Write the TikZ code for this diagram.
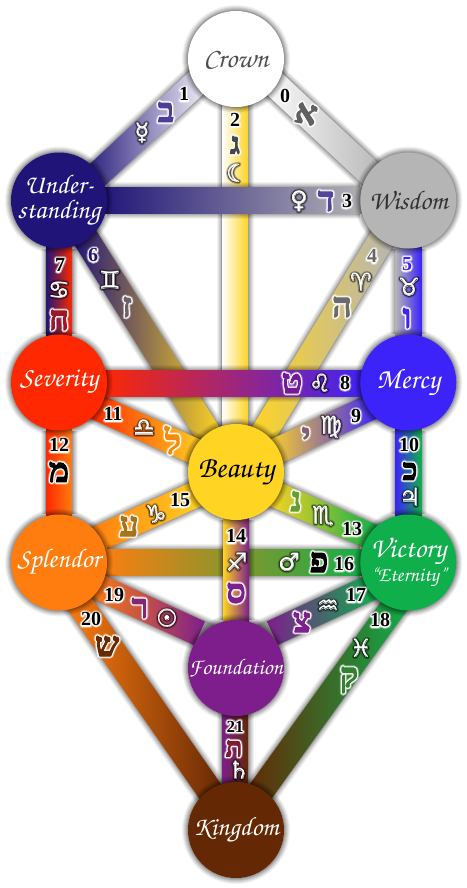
\documentclass[tikz,border=0pt]{standalone}
\usepackage[T1,TU]{fontenc}
\usepackage{fontspec}
\usetikzlibrary{calc}
\newfontfamily\hebf[Script=Hebrew]{Liberation Serif}
\newfontfamily\symf{DejaVu Sans}
\newfontfamily\numf{Liberation Serif}
\pgfdeclarelayer{bars}\pgfdeclarelayer{halos}
\pgfsetlayers{bars,halos,main}
\newcommand\calf[1]{\fontsize{#1}{#1}\usefont{T1}{pzc}{mb}{it}}
\definecolor{cCrown}{RGB}{255,255,255}
\definecolor{cWis}{RGB}{181,181,181}
\definecolor{cUnd}{RGB}{32,20,120}
\definecolor{cMer}{RGB}{60,35,250}
\definecolor{cSev}{RGB}{255,40,0}
\definecolor{cBea}{RGB}{255,212,35}
\definecolor{cSpl}{RGB}{255,125,15}
\definecolor{cVic}{RGB}{15,175,75}
\definecolor{cFou}{RGB}{125,30,140}
\definecolor{cKin}{RGB}{100,40,5}
\makeatletter
\newcommand\strokelayer[4]{\rlap{\special{pdf:code q}\pgfsys@stroke@opacity{#3}\special{pdf:code #1 RG 1 Tr #2 w 1 j 1 J}#4\special{pdf:code 0 Tr Q}}}
\makeatother
\newcommand\wglow[1]{\strokelayer{1 1 1}{4.4}{.4}{#1}\strokelayer{1 1 1}{2.4}{1}{#1}#1}
\newcommand\dglow[1]{\strokelayer{0 0 0}{4.6}{.25}{#1}\strokelayer{0 0 0}{2.6}{.5}{#1}\strokelayer{1 1 1}{.4}{1}{#1}#1}
% Hebrew letter: white halo, then the letter filled and thickened in one colour
\newcommand\hebl[2]{\strokelayer{1 1 1}{5.2}{.4}{#2}\strokelayer{1 1 1}{3.4}{1}{#2}\special{pdf:code q #1 RG #1 rg 2 Tr 1 w 1 j 1 J}#2\special{pdf:code 0 Tr Q}}
\tikzset{
 sephira/.style={circle,minimum size=96pt,inner sep=0pt,fill=#1},
 lab/.style 2 args={align=center,inner sep=0pt,text=#1,font=\calf{#2}},
 barbox/.style={rectangle,minimum height=26pt,inner sep=0pt},
 num/.style={inner sep=0pt,font=\numf\bfseries\fontsize{20}{20}\selectfont},
 heb/.style={inner sep=0pt,font=\hebf\bfseries\fontsize{34}{34}\selectfont},
 hebs/.style={inner sep=0pt,font=\hebf\bfseries\fontsize{#1}{#1}\selectfont},
 sym/.style={inner sep=0pt,text=white,font=\symf\fontsize{24}{24}\selectfont},
}
\newcommand\pathbar[5]{%
 \foreach \w/\o in {37/.05,35/.06,33/.07,31/.08,29/.1,27.5/.1}{\draw[line width=\w pt,black,opacity=\o] (#2)--(#3);}
 \path let \p1=($(#3)-(#2)$),\n1={veclen(\x1,\y1)},\n2={atan2(\y1,\x1)} in
   node[barbox,minimum width={\n1-80},rotate=\n2,left color=#4,right color=#5] (#1) at ($(#2)!.5!(#3)$) {};
}
\newcommand\sephalo[1]{\foreach \r/\o in {54/.05,53/.06,52/.07,51/.08,50/.1,49/.12}{\fill[black,opacity=\o] (#1) circle[radius=\r pt];}}
\newcommand\hnum[5]{\node[num,text=#4] (#1) at (#2) {#5{#3}};}
\begin{document}
\begin{tikzpicture}[x=1pt,y=-1pt]
\begin{pgfonlayer}{bars}
\fill[white] (0,0) rectangle (466,888);
\end{pgfonlayer}
\useasboundingbox (0,0) rectangle (466,888);
% sephiroth
\node[sephira=cCrown,label={[lab={black!70}{27.5}]center:Crown}] (crown) at (236,59) {};
\node[sephira=cUnd,label={[lab={white}{27}]center:Under-\\[-2pt]standing}] (und) at (59,200.5) {};
\node[sephira=cWis,label={[lab={black!80}{27}]center:Wisdom}] (wis) at (408.3,200.5) {};
\node[sephira=cSev,label={[lab={white}{27.5}]center:Severity}] (sev) at (59,382.5) {};
\node[sephira=cMer,label={[lab={white}{28.5}]center:Mercy}] (mer) at (408.3,382.5) {};
\node[sephira=cBea,label={[lab={black}{30}]center:Beauty}] (bea) at (236,472) {};
\node[sephira=cSpl,label={[lab={white}{27}]center:Splendor}] (spl) at (59,562.5) {};
\node[sephira=cVic,label={[lab={white}{28.5}]center:Victory\\[-4pt]{\calf{20.5}``Eternity''}}] (vic) at (408.3,562.5) {};
\node[sephira=cFou,label={[lab={white}{22.5}]center:Foundation}] (fou) at (236,668) {};
\node[sephira=cKin,label={[lab={white}{26.5}]center:Kingdom}] (kin) at (236,830) {};
\begin{pgfonlayer}{halos}
\foreach \n in {crown,und,wis,sev,mer,bea,spl,vic,fou,kin}{\sephalo{\n}}
\end{pgfonlayer}
% path anchors
\coordinate (a0) at ($(crown)+(0,-11)$);  \coordinate (b0) at ($(wis)+(0,8.5)$);
\coordinate (a1) at ($(crown)+(0,-13)$);  \coordinate (b1) at ($(und)+(0,10)$);
\coordinate (a2) at ($(crown)+(-1,0)$);   \coordinate (b2) at ($(bea)+(-1,0)$);
\coordinate (a4) at ($(wis)+(-3,0)$);     \coordinate (b4) at ($(bea)+(4,0)$);
\coordinate (a6) at ($(und)+(3,0)$);      \coordinate (b6) at ($(bea)+(-4,0)$);
\coordinate (a8) at ($(sev)+(0,1)$);      \coordinate (b8) at ($(mer)+(0,1)$);
\coordinate (a9) at ($(mer)+(0,7)$);      \coordinate (b9) at ($(bea)+(0,-2)$);
\coordinate (a11) at ($(sev)+(0,7.5)$);   \coordinate (b11) at ($(bea)+(0,-2)$);
\coordinate (a13) at ($(bea)+(0,5)$);     \coordinate (b13) at ($(vic)+(0,-9.5)$);
\coordinate (a15) at ($(bea)+(0,4)$);     \coordinate (b15) at ($(spl)+(0,-6)$);
\coordinate (a17) at ($(vic)+(0,7.5)$);   \coordinate (b17) at ($(fou)+(0,-18)$);
\coordinate (a18) at ($(vic)+(17,0)$);    \coordinate (b18) at ($(kin)+(-3,0)$);
\coordinate (a19) at ($(spl)+(0,6.5)$);   \coordinate (b19) at ($(fou)+(0,-18)$);
\coordinate (a20) at ($(spl)+(-8,0)$);    \coordinate (b20) at ($(kin)+(1,0)$);
\coordinate (a21) at ($(fou)+(-1,0)$);    \coordinate (b21) at ($(kin)+(-1,0)$);
\begin{pgfonlayer}{bars}
\pathbar{p2}{a2}{b2}{cCrown}{cBea}
\pathbar{p6}{a6}{b6}{cUnd}{cBea}
\pathbar{p4}{b4}{a4}{cBea}{cWis}
\pathbar{p0}{a0}{b0}{cCrown}{cWis}
\pathbar{p1}{b1}{a1}{cUnd}{cCrown}
\pathbar{p3}{und}{wis}{cUnd}{cWis}
\pathbar{p5}{wis}{mer}{cWis}{cMer}
\pathbar{p7}{und}{sev}{cUnd}{cSev}
\pathbar{p9}{b9}{a9}{cBea}{cMer}
\pathbar{p11}{a11}{b11}{cSev}{cBea}
\pathbar{p8}{a8}{b8}{cSev}{cMer}
\pathbar{p10}{mer}{vic}{cMer}{cVic}
\pathbar{p12}{sev}{spl}{cSev}{cSpl}
\pathbar{p13}{a13}{b13}{cBea}{cVic}
\pathbar{p15}{b15}{a15}{cSpl}{cBea}
\pathbar{p16}{spl}{vic}{cSpl}{cVic}
\pathbar{p14}{bea}{fou}{cBea}{cFou}
\pathbar{p17}{b17}{a17}{cFou}{cVic}
\pathbar{p19}{a19}{b19}{cSpl}{cFou}
\pathbar{p18}{b18}{a18}{cKin}{cVic}
\pathbar{p20}{a20}{b20}{cSpl}{cKin}
\pathbar{p21}{a21}{b21}{cFou}{cKin}
\end{pgfonlayer}
% numbers
\hnum{n0}{285,96}{0}{black}{\wglow}
\hnum{n1}{184,94}{1}{black}{\wglow}
\hnum{n2}{235,119.5}{2}{black}{\wglow}
\hnum{n3}{347,201}{3}{black}{\wglow}
\hnum{n4}{372,256}{4}{black!60}{\wglow}
\hnum{n5}{407,264}{5}{cMer}{\wglow}
\hnum{n6}{93,255}{6}{cUnd}{\wglow}
\hnum{n7}{60,265}{7}{black}{\wglow}
\hnum{n8}{345,383}{8}{black}{\wglow}
\hnum{n9}{356,416}{9}{black}{\wglow}
\hnum{n10}{409,444.5}{10}{black}{\wglow}
\hnum{n11}{113,414}{11}{black}{\wglow}
\hnum{n12}{59,445}{12}{black}{\wglow}
\hnum{n13}{352,529}{13}{black}{\wglow}
\hnum{n14}{236,536}{14}{black}{\wglow}
\hnum{n15}{180,500}{15}{black}{\wglow}
\hnum{n16}{344,564}{16}{black}{\wglow}
\hnum{n17}{356,595}{17}{black}{\wglow}
\hnum{n18}{380,620}{18}{black}{\wglow}
\hnum{n19}{114,595}{19}{black}{\wglow}
\hnum{n20}{91,619}{20}{black}{\wglow}
\node[num,text=black,font=\numf\bfseries\fontsize{17}{17}\selectfont] (n21) at (235,726.5) {\wglow{21}};
% hebrew letters
\node[heb,rotate=-12] (h0) at (306,114) {\hebl{.38 .38 .38}{א}};
\node[heb] (h1) at (166,112) {\hebl{.3 .24 .6}{ב}};
\node[hebs=30] (h2) at (235,145) {\hebl{.28 .28 .28}{ג}};
\node[heb] (h3) at (326,201) {\hebl{.33 .27 .6}{ד}};
\node[heb] (h4) at (342,307) {\hebl{.42 .42 .42}{ה}};
\node[heb] (h5) at (407,318) {\hebl{.24 .14 .95}{ו}};
\node[heb] (h6) at (127,307) {\hebl{.42 .38 .4}{ז}};
\node[heb] (h7) at (59,320) {\hebl{.6 .1 .15}{ח}};
\node[heb] (h8) at (292,383) {\hebl{.45 .1 .6}{ט}};
\node[heb] (h9) at (306,437) {\hebl{.5 .38 .45}{י}};
\node[hebs=30] (h10) at (410,471) {\hebl{0 0 0}{כ}};
\node[heb] (h11) at (173,440) {\hebl{.95 .55 .05}{ל}};
\node[heb] (h12) at (59,472) {\hebl{0 0 0}{מ}};
\node[heb] (h13) at (296,501) {\hebl{.4 .62 .2}{נ}};
\node[heb] (h14) at (236,593) {\hebl{.49 .12 .55}{ס}};
\node[heb] (h15) at (129,526) {\hebl{.65 .45 .1}{ע}};
\node[heb] (h16) at (319,562) {\hebl{0 0 0}{פ}};
\node[heb] (h17) at (302,622) {\hebl{.49 .12 .55}{צ}};
\node[heb] (h18) at (349,680) {\hebl{.2 .5 .2}{ק}};
\node[heb] (h19) at (140,608) {\hebl{.5 .15 .45}{ר}};
\node[heb] (h20) at (107,646) {\hebl{.4 .16 .02}{ש}};
\node[hebs=27] (h21) at (234,748.5) {\hebl{.5 .1 .2}{ת}};
% astrological symbols
\node[sym] (s1) at (142,133) {\dglow{☿}};
\node[sym] (s2) at (237,173) {\dglow{☾}};
\node[sym] (s3) at (299,201) {\dglow{♀}};
\node[sym] (s4) at (361,282) {\dglow{♈}};
\node[sym] (s5) at (409,287) {\dglow{♉}};
\node[sym] (s6) at (110,280) {\dglow{♊}};
\node[sym] (s7) at (59,290) {\dglow{♋}};
\node[sym] (s8) at (320,383) {\dglow{♌}};
\node[sym] (s9) at (331,427) {\dglow{♍}};
\node[sym] (s10) at (410,497) {\dglow{♃}};
\node[sym] (s11) at (144,428) {\dglow{♎}};
\node[sym] (s13) at (323,516) {\dglow{♏}};
\node[sym] (s14) at (237,562) {\dglow{♐}};
\node[sym] (s15) at (156,514) {\dglow{♑}};
\node[sym] (s16) at (289,562) {\dglow{♂}};
\node[sym] (s17) at (328,607) {\dglow{♒}};
\node[sym] (s18) at (361,648) {\dglow{♓}};
\node[sym] (s19) at (167,618) {\dglow{☉}};
\node[sym] (s21) at (239,770) {\dglow{♄}};
\end{tikzpicture}
\end{document}
